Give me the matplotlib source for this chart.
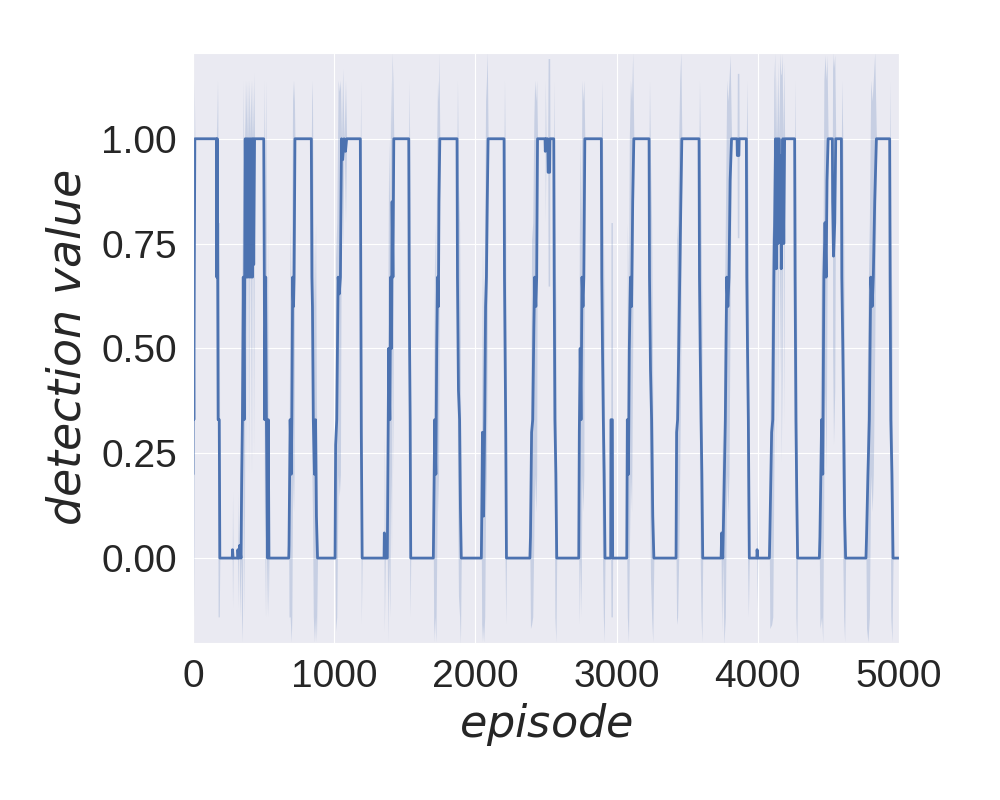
import matplotlib
matplotlib.use("Agg")
import matplotlib.pyplot as plt
import seaborn as sns
import numpy as np

# vertices of the mean detection curve (episode, value)
episodes = [
    0, 2, 6, 9, 13, 166, 168, 172, 175, 178, 186, 190,
    278, 280, 284, 316, 318, 322, 328,
    330, 340, 345, 350, 356, 362, 366, 370, 376, 381, 386, 392, 398, 404,
    410, 416, 421, 426, 430, 436,
    501, 505, 508, 515, 520, 528, 533, 538,
    678, 680, 688, 696, 700, 706, 712, 716, 722,
    838, 842, 846, 852, 860, 868, 874, 882,
    1006, 1010, 1018, 1028, 1036, 1044, 1052, 1060, 1070, 1080, 1088,
    1185, 1188, 1192, 1198,
    1353, 1355, 1362, 1376, 1380, 1386, 1394, 1400, 1406, 1410, 1416, 1422,
    1528, 1531, 1534, 1538, 1542,
    1702, 1705, 1712, 1720, 1726, 1732, 1738, 1742, 1748,
    1870, 1873, 1880, 1888, 1894, 1900,
    2042, 2045, 2050, 2058, 2066, 2072, 2078, 2084, 2090,
    2203, 2206, 2210, 2215, 2220,
    2386, 2390, 2398, 2406, 2414, 2420, 2428, 2434, 2440,
    2493, 2495, 2500, 2512, 2515, 2526, 2528,
    2555, 2558, 2563, 2570, 2576,
    2732, 2736, 2742, 2748, 2755, 2762, 2768, 2775,
    2892, 2895, 2900, 2906, 2912, 2918, 2958, 2960, 2970, 2972,
    3072, 3076, 3084, 3090, 3098, 3106, 3114, 3122,
    3230, 3233, 3240, 3248, 3256, 3264,
    3421, 3425, 3432, 3440, 3447, 3455, 3462,
    3584, 3587, 3592, 3598, 3604, 3610,
    3740, 3744, 3752, 3760, 3770, 3780, 3788, 3796, 3804, 3814,
    3853, 3855, 3866, 3868,
    3919, 3922, 3927, 3933, 3940, 3993, 3995, 4000,
    4082, 4085, 4098, 4106, 4114, 4120, 4126, 4132, 4138, 4144, 4150, 4156,
    4162, 4166, 4172, 4178, 4184, 4190,
    4261, 4264, 4270, 4276, 4282,
    4436, 4440, 4452, 4460, 4468, 4476, 4484, 4490, 4498,
    4528, 4530, 4536, 4545, 4552,
    4592, 4595, 4602, 4608, 4615, 4622,
    4766, 4770, 4780, 4790, 4800, 4810, 4818, 4828, 4840,
    4934, 4937, 4942, 4950, 4958, 5000,
]
detection = [
    0.2, 0.67, 0.33, 0.67, 1.0, 1.0, 0.67, 1.0, 0.67, 0.33, 0.33, 0.0,
    0.0, 0.02, 0.0, 0.0, 0.02, 0.0, 0.0,
    0.03, 0.0, 0.2, 0.33, 0.67, 0.33, 0.67, 1.0, 0.67, 1.0, 0.67, 1.0, 0.67, 1.0,
    0.67, 1.0, 0.67, 1.0, 0.7, 1.0,
    1.0, 0.67, 0.33, 0.67, 0.33, 0.0, 0.33, 0.0,
    0.0, 0.03, 0.33, 0.2, 0.33, 0.67, 0.6, 0.67, 1.0,
    1.0, 0.67, 0.6, 0.33, 0.2, 0.33, 0.1, 0.0,
    0.0, 0.27, 0.33, 0.67, 0.63, 0.67, 1.0, 0.95, 1.0, 0.97, 1.0,
    1.0, 0.67, 0.3, 0.0,
    0.0, 0.06, 0.0, 0.0, 0.2, 0.5, 0.33, 0.67, 0.5, 0.85, 0.67, 1.0,
    1.0, 0.67, 0.5, 0.33, 0.0,
    0.0, 0.1, 0.33, 0.2, 0.5, 0.67, 0.6, 0.85, 1.0,
    1.0, 0.67, 0.4, 0.33, 0.12, 0.0,
    0.0, 0.1, 0.3, 0.1, 0.33, 0.6, 0.67, 0.85, 1.0,
    1.0, 0.67, 0.5, 0.3, 0.0,
    0.0, 0.05, 0.3, 0.33, 0.55, 0.67, 0.6, 0.67, 1.0,
    1.0, 0.97, 1.0, 1.0, 0.92, 0.92, 1.0,
    1.0, 0.67, 0.33, 0.2, 0.0,
    0.0, 0.3, 0.5, 0.33, 0.67, 0.6, 0.67, 1.0,
    1.0, 0.67, 0.5, 0.33, 0.2, 0.0, 0.0, 0.33, 0.33, 0.0,
    0.0, 0.33, 0.2, 0.5, 0.67, 0.6, 0.85, 1.0,
    1.0, 0.67, 0.45, 0.33, 0.1, 0.0,
    0.0, 0.3, 0.33, 0.5, 0.67, 0.85, 1.0,
    1.0, 0.67, 0.5, 0.33, 0.2, 0.0,
    0.0, 0.06, 0.0, 0.14, 0.33, 0.67, 0.6, 0.67, 0.9, 1.0,
    1.0, 0.96, 0.96, 1.0,
    1.0, 0.67, 0.5, 0.33, 0.0, 0.0, 0.02, 0.0,
    0.0, 0.05, 0.3, 0.33, 0.67, 0.82, 1.0, 0.69, 1.0, 0.75, 1.0, 0.82,
    0.96, 0.69, 0.82, 1.0, 0.75, 1.0,
    1.0, 0.67, 0.33, 0.15, 0.0,
    0.0, 0.05, 0.33, 0.2, 0.67, 0.8, 0.67, 0.9, 1.0,
    1.0, 0.85, 0.72, 0.8, 1.0,
    1.0, 0.67, 0.5, 0.33, 0.1, 0.0,
    0.0, 0.05, 0.2, 0.33, 0.67, 0.6, 0.67, 0.85, 1.0,
    1.0, 0.67, 0.33, 0.2, 0.0, 0.0,
]

x = np.array(episodes)
y = np.array(detection)
# spread of the three runs around the mean
spread = np.sqrt(y * (1 - y))

sns.set_style("darkgrid")
color = sns.color_palette("deep")[0]

fig = plt.figure(figsize=(10, 8), dpi=100)
ax = fig.add_axes([0.193, 0.196, 0.706, 0.738])
ax.fill_between(x, y - spread, y + spread, color=color, alpha=0.22,
                linewidth=0)
ax.plot(x, y, color=color, linewidth=2.0)

ax.set_xlim(0, 5000)
ax.set_ylim(-0.203, 1.205)
ax.set_xticks([0, 1000, 2000, 3000, 4000, 5000])
ax.set_yticks([0.0, 0.25, 0.5, 0.75, 1.0])
ax.set_yticklabels(["0.00", "0.25", "0.50", "0.75", "1.00"])
for lab in ax.get_xticklabels() + ax.get_yticklabels():
    lab.set_fontfamily("Liberation Sans")
    lab.set_fontsize(28)
    lab.set_color("#262626")
ax.tick_params(axis="x", pad=8)
ax.tick_params(axis="y", pad=8)
ax.set_xlabel(r"$episode$", fontsize=32, color="#262626", labelpad=4)
ax.set_ylabel(r"$detection\ value$", fontsize=33, color="#262626", labelpad=8)

fig.savefig("out.png", dpi=100)
